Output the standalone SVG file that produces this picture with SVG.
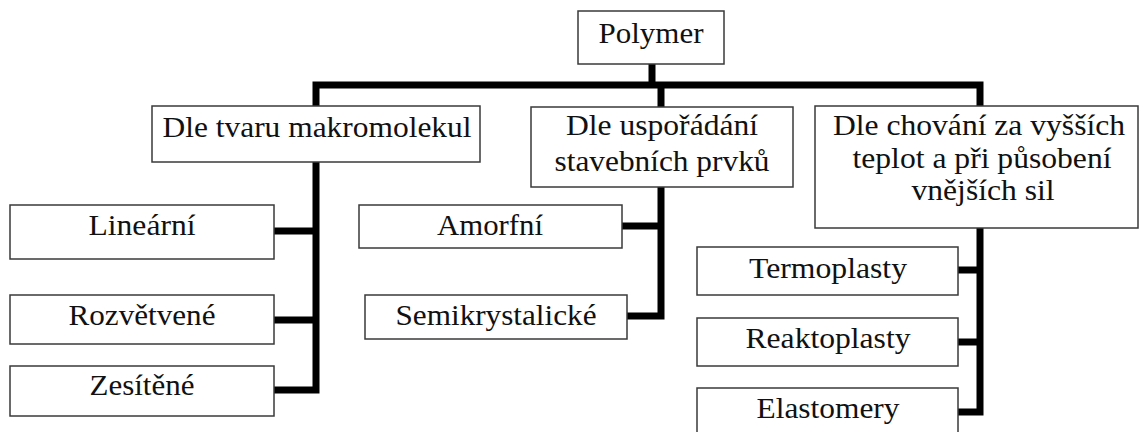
<svg xmlns="http://www.w3.org/2000/svg" width="1144" height="432" viewBox="0 0 1144 432" font-family="Liberation Serif, Times New Roman, serif">
<style>
.box{fill:#fff;stroke:#3a3a3a;stroke-width:1.5}
.t{font-size:30px;fill:#111;text-anchor:middle}
.c{fill:none;stroke:#000;stroke-width:7;stroke-linejoin:miter;stroke-linecap:butt}
</style>
<rect width="1144" height="432" fill="#fff"/>
<g id="connectors">
<path class="c" d="M652,64 V85"/>
<path class="c" d="M316,106 V85 H980 V106"/>
<path class="c" d="M316,106 V390 H274"/>
<path class="c" d="M274,231 H316"/>
<path class="c" d="M274,320 H316"/>
<path class="c" d="M661,85 V316 H627"/>
<path class="c" d="M622,226 H661"/>
<path class="c" d="M980,106 V412 H958"/>
<path class="c" d="M958,270 H980"/>
<path class="c" d="M958,342 H980"/>
</g>
<g id="polymer"><rect class="box" x="578" y="11" width="146" height="53"/><text class="t" x="651" y="43" textLength="105" lengthAdjust="spacingAndGlyphs">Polymer</text></g>
<g id="tvar"><rect class="box" x="152" y="106" width="328" height="56"/><text class="t" x="317" y="137" textLength="309" lengthAdjust="spacingAndGlyphs">Dle tvaru makromolekul</text></g>
<g id="usporadani"><rect class="box" x="531" y="107" width="262" height="80"/><text class="t" x="662" y="135" textLength="192" lengthAdjust="spacingAndGlyphs">Dle uspořádání</text><text class="t" x="662" y="171" textLength="215" lengthAdjust="spacingAndGlyphs">stavebních prvků</text></g>
<g id="chovani"><rect class="box" x="815" y="106" width="323" height="122"/><text class="t" x="979" y="135" textLength="292" lengthAdjust="spacingAndGlyphs">Dle chování za vyšších</text><text class="t" x="982" y="168" textLength="259" lengthAdjust="spacingAndGlyphs">teplot a při působení</text><text class="t" x="983" y="200" textLength="143" lengthAdjust="spacingAndGlyphs">vnějších sil</text></g>
<g id="linearni"><rect class="box" x="10" y="205" width="264" height="54"/><text class="t" x="142" y="235" textLength="107" lengthAdjust="spacingAndGlyphs">Lineární</text></g>
<g id="rozvetvene"><rect class="box" x="10" y="295" width="264" height="49"/><text class="t" x="142" y="325" textLength="147" lengthAdjust="spacingAndGlyphs">Rozvětvené</text></g>
<g id="zesitene"><rect class="box" x="10" y="366" width="264" height="50"/><text class="t" x="142" y="395" textLength="105" lengthAdjust="spacingAndGlyphs">Zesítěné</text></g>
<g id="amorfni"><rect class="box" x="359" y="205" width="263" height="43"/><text class="t" x="490" y="235" textLength="106" lengthAdjust="spacingAndGlyphs">Amorfní</text></g>
<g id="semikrystalicke"><rect class="box" x="365" y="295" width="262" height="44"/><text class="t" x="496" y="325" textLength="201" lengthAdjust="spacingAndGlyphs">Semikrystalické</text></g>
<g id="termoplasty"><rect class="box" x="697" y="247" width="261" height="48"/><text class="t" x="828" y="278" textLength="158" lengthAdjust="spacingAndGlyphs">Termoplasty</text></g>
<g id="reaktoplasty"><rect class="box" x="697" y="318" width="261" height="48"/><text class="t" x="828" y="348" textLength="165" lengthAdjust="spacingAndGlyphs">Reaktoplasty</text></g>
<g id="elastomery"><rect class="box" x="697" y="388" width="261" height="60"/><text class="t" x="828" y="418" textLength="143" lengthAdjust="spacingAndGlyphs">Elastomery</text></g>
</svg>
